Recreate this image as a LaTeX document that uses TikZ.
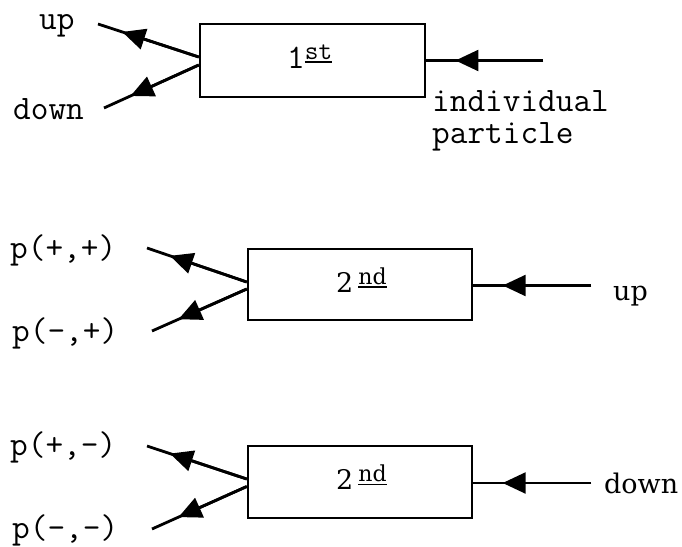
\documentclass[tikz,border=0pt]{standalone}
\usepackage{fontspec}
\usetikzlibrary{arrows.meta,calc}
\newfontfamily\seriffam{DejaVu Serif}
% raised, underlined superscript: #1 raise, #2 text
\newcommand\supul[2]{\raisebox{#1}{\setbox0=\hbox{#2}\rlap{\rule[-3.5pt]{\wd0}{1.5pt}}\box0}}
\tikzset{
  stagebox/.style={draw, line width=2.5pt, minimum width=224pt, minimum height=72pt, inner sep=0pt},
  conn/.style={line width=2.8pt},
  feed/.style={line width=2.4pt},
  tip/.style={-{Triangle[length=23pt,width=21pt]}},
  mono/.style={font=\ttfamily\fontsize{34.3}{30}\selectfont, inner sep=0pt, anchor=base west},
  serif/.style={font=\seriffam\fontsize{27}{27}\selectfont, inner sep=0pt, anchor=base west},
}
\begin{document}
\begin{tikzpicture}[x=1pt,y=-1pt]
\useasboundingbox (0,0) rectangle (682,546);

% ---------- first stage ----------
\node[stagebox, minimum width=225pt, minimum height=73pt] (b1) at (312.5,60.5) {};
\node[mono] (t1) at ($(b1.center)+(-25.5,7.5)$) {1\supul{9pt}{\fontsize{26.5}{26.5}\selectfont st}};
\coordinate (u1) at (98,24);
\coordinate (d1) at (104,108);
\coordinate (r1) at (543,60.5);
\coordinate (b1u) at ($(b1.west)+(0,-3.5)$);
\coordinate (b1d) at ($(b1.west)+(0,4.5)$);
\draw[conn] (b1u) -- (u1);
\draw[conn,tip] (b1u) -- ($(b1u)!0.76!(u1)$);
\draw[conn] (b1d) -- (d1);
\draw[conn,tip] (b1d) -- ($(b1d)!0.72!(d1)$);
\draw[feed] (r1) -- (b1.east);
\draw[feed,tip] (r1) -- ($(r1)!0.75!(b1.east)$);
\node[mono] (l1u) at (39,29) {up};
\node[mono] (l1d) at (13,119) {down};
\node[mono, align=left, font=\ttfamily\fontsize{34.3}{31.5}\selectfont] (l1r) at (432,143) {individual\\particle};

% ---------- second stage, upper ----------
\node[stagebox, minimum height=71pt] (b2) at (360,284.5) {};
\node[serif] (t2) at ($(b2.center)+(-24,7.5)$) {2\hspace{5pt}\supul{8pt}{\fontsize{22}{22}\selectfont nd}};
\coordinate (u2) at (147,248);
\coordinate (d2) at (152,331);
\coordinate (r2) at (591,285.5);
\coordinate (b2u) at ($(b2.west)+(0,-2.5)$);
\coordinate (b2d) at ($(b2.west)+(0,4.5)$);
\draw[conn] (b2u) -- (u2);
\draw[conn,tip] (b2u) -- ($(b2u)!0.77!(u2)$);
\draw[conn] (b2d) -- (d2);
\draw[conn,tip] (b2d) -- ($(b2d)!0.72!(d2)$);
\draw[feed] (r2) -- (b2.east |- r2);
\draw[feed,tip] (r2) -- ($(r2)!0.75!(b2.east |- r2)$);
\node[mono] (l2u) at (10,258) {p(+,+)};
\node[mono] (l2d) at (12,341) {p(-,+)};
\node[serif] (l2r) at (613,300) {up};

% ---------- second stage, lower ----------
\node[stagebox] (b3) at (360,482) {};
\node[serif] (t3) at ($(b3.center)+(-24,7.5)$) {2\hspace{5pt}\supul{8pt}{\fontsize{22}{22}\selectfont nd}};
\coordinate (u3) at (147,446);
\coordinate (d3) at (152,529);
\coordinate (r3) at (591,483);
\coordinate (b3u) at ($(b3.west)+(0,-3)$);
\coordinate (b3d) at ($(b3.west)+(0,4.5)$);
\draw[conn] (b3u) -- (u3);
\draw[conn,tip] (b3u) -- ($(b3u)!0.77!(u3)$);
\draw[conn] (b3d) -- (d3);
\draw[conn,tip] (b3d) -- ($(b3d)!0.72!(d3)$);
\draw[feed] (r3) -- (b3.east |- r3);
\draw[feed,tip] (r3) -- ($(r3)!0.75!(b3.east |- r3)$);
\node[mono] (l3u) at (10,455) {p(+,-)};
\node[mono] (l3d) at (12,538) {p(-,-)};
\node[serif] (l3r) at (604,493) {down};
\end{tikzpicture}
\end{document}
